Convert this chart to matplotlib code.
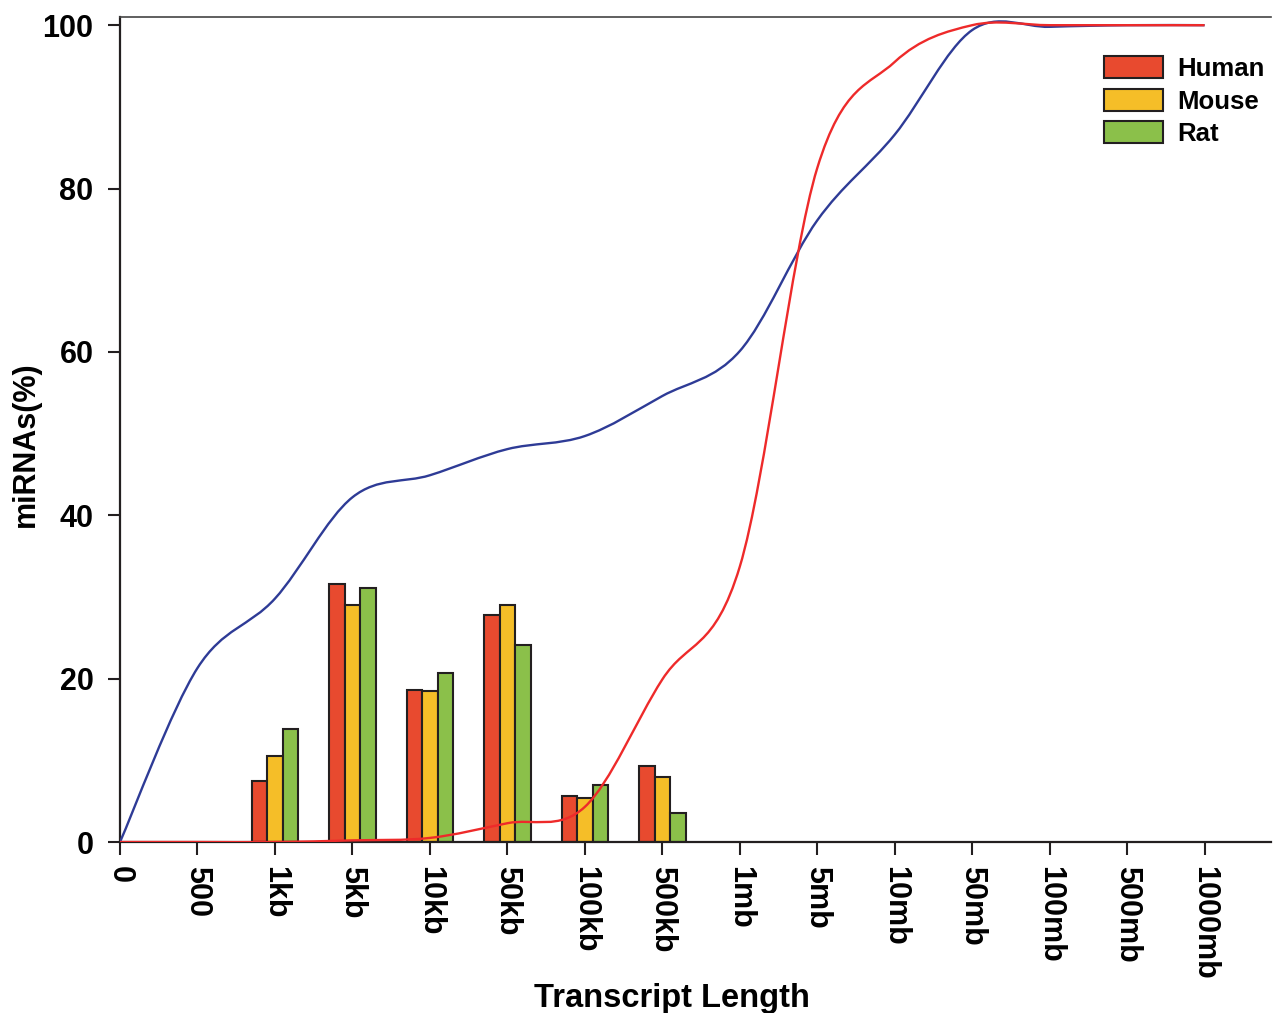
import matplotlib
matplotlib.use('Agg')
import numpy as np
import matplotlib.pyplot as plt
from matplotlib.path import Path
from matplotlib.patches import PathPatch

plt.rcParams['font.family'] = ['Liberation Sans', 'DejaVu Sans']
plt.rcParams['font.weight'] = 'bold'

# x categories (transcript length)
lengths = ['0', '500', '1kb', '5kb', '10kb', '50kb', '100kb', '500kb',
           '1mb', '5mb', '10mb', '50mb', '100mb', '500mb', '1000mb']

# bar data, per category index in `lengths`
bar_pos = [2, 3, 4, 5, 6, 7]
human = [7.5, 31.6, 18.6, 27.8, 5.6, 9.3]
mouse = [10.5, 29.0, 18.5, 29.0, 5.4, 8.0]
rat = [13.8, 31.1, 20.7, 24.1, 7.0, 3.5]

# smooth lines (one value per category)
blue_line = [0, 21.3, 29.8, 42.2, 44.9, 48.1, 49.7, 54.6, 60.1, 76.1, 86.6, 99.4, 99.8, 100.0, 100.0]
red_line = [0, 0, 0, 0.2, 0.5, 2.3, 4.3, 19.9, 33.7, 82.5, 95.5, 100.0, 100.0, 100.0, 100.0]


def smooth_path(xs, ys):
    # Catmull-Rom style bezier through the points (like a "smoothed line")
    pts = np.column_stack([xs, ys]).astype(float)
    n = len(pts)
    verts = [pts[0]]
    codes = [Path.MOVETO]
    for i in range(n - 1):
        p0 = pts[max(i - 1, 0)]
        p1 = pts[i]
        p2 = pts[i + 1]
        p3 = pts[min(i + 2, n - 1)]
        c1 = p1 + (p2 - p0) / 6.0
        c2 = p2 - (p3 - p1) / 6.0
        verts += [c1, c2, p2]
        codes += [Path.CURVE4] * 3
    return Path(verts, codes)


fig = plt.figure(figsize=(12.74, 10.13), dpi=100)
ax = fig.add_axes([0.0942, 0.1688, 0.9036, 0.8144])

w = 0.2
bp = np.array(bar_pos)
ax.bar(bp - w, human, w, color='#e84a2f', edgecolor='#231f20', linewidth=1.5, label='Human', zorder=2)
ax.bar(bp, mouse, w, color='#f5be28', edgecolor='#231f20', linewidth=1.5, label='Mouse', zorder=2)
ax.bar(bp + w, rat, w, color='#8bc04a', edgecolor='#231f20', linewidth=1.5, label='Rat', zorder=2)

xs = np.arange(len(lengths))
ax.add_patch(PathPatch(smooth_path(xs, blue_line), fill=False, edgecolor='#2e3b96', lw=1.7, zorder=3))
ax.add_patch(PathPatch(smooth_path(xs, red_line), fill=False, edgecolor='#ee2a2a', lw=1.7, zorder=4))

ax.set_xlim(0, 14.86)
ax.set_ylim(0, 101)
ax.set_xticks(xs)
ax.set_xticklabels(lengths, rotation=270, fontsize=22, fontweight='bold')
ax.set_yticks([0, 20, 40, 60, 80, 100])
ax.tick_params(axis='y', labelsize=22, direction='out', length=9, width=1.5, pad=10, color='#231f20')
ax.tick_params(axis='x', direction='out', length=9, width=1.5, pad=8, color='#231f20')

ax.spines['right'].set_visible(False)
ax.spines['top'].set_linewidth(1.2)
ax.spines['top'].set_color('#444444')
for s in ['left', 'bottom']:
    ax.spines[s].set_linewidth(1.6)
    ax.spines[s].set_color('#231f20')

ax.set_xlabel('Transcript Length', fontsize=23.5, fontweight='bold')
ax.xaxis.set_label_coords(0.4796, -0.171)
ax.set_ylabel('miRNAs(%)', fontsize=22, fontweight='bold')
ax.yaxis.set_label_coords(-0.069, 0.482)

ax.legend(loc='upper right', bbox_to_anchor=(0.994, 0.9527), frameon=False,
          fontsize=18.5, handlelength=2.3, handleheight=0.95, labelspacing=0.3,
          handletextpad=0.55, borderpad=0, borderaxespad=0)

fig.savefig('out.png', dpi=100)
